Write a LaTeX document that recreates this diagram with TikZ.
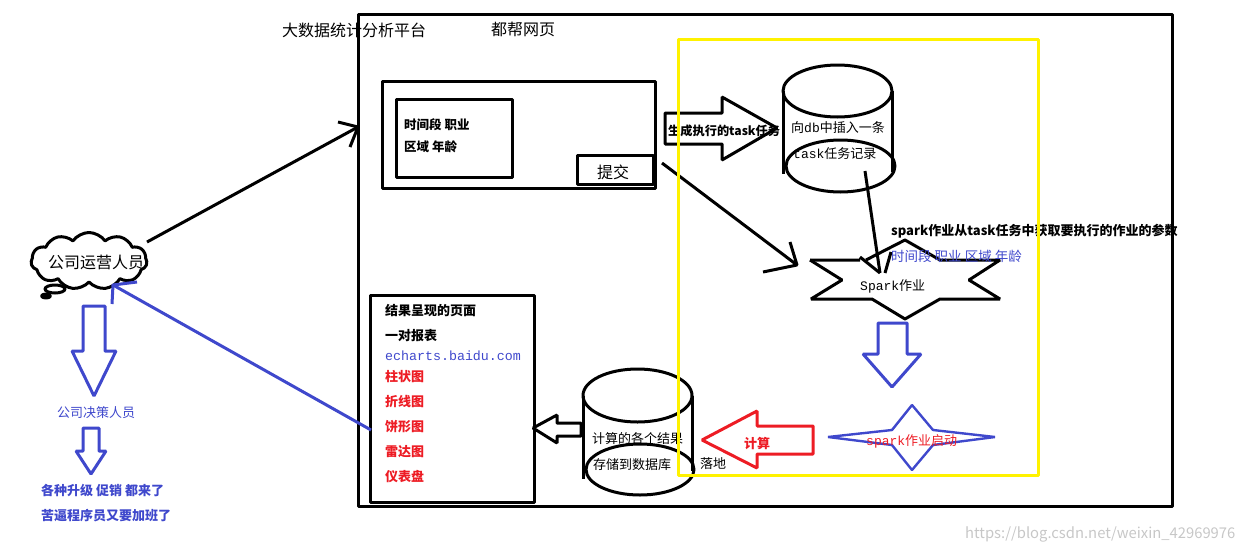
\documentclass[tikz,border=0pt]{standalone}
\usepackage{fontspec}
\setmainfont{Noto Sans CJK SC}
\newfontfamily\mono{Liberation Mono}
\usetikzlibrary{shapes.geometric,shapes.symbols}
\definecolor{penblue}{RGB}{63,72,204}
\definecolor{penred}{RGB}{237,28,36}
\definecolor{penyellow}{RGB}{255,242,0}
\begin{document}
\begin{tikzpicture}[x=1pt,y=-1pt,line join=bevel,
    pen/.style={draw=black,line width=3pt,inner sep=0,outer sep=0},
    bluepen/.style={draw=penblue,line width=3pt},
    redpen/.style={draw=penred,line width=3pt},
    txt/.style={inner sep=0,anchor=west,font=\fontsize{13}{13}\selectfont},
    big/.style={txt,font=\fontsize{16}{16}\selectfont},
    bt/.style={txt,font=\fontsize{13}{13}\selectfont\bfseries}]
\useasboundingbox (0,0) rectangle (1245,552);
\node[pen,minimum width=814pt,minimum height=492pt] (page) at (765,260) {};
\node[pen,minimum width=273pt,minimum height=107pt] (form) at (518.5,134.5) {};
\node[pen,minimum width=116pt,minimum height=78pt] (fields) at (454,138) {};
\node[pen,minimum width=76pt,minimum height=29pt] (submit) at (615,169.5) {};
\node[pen,minimum width=164pt,minimum height=207pt] (result) at (452,398.5) {};
\node[big] (title) at (282,30) {大数据统计分析平台};
\node[big] (site) at (491,29) {都帮网页};
\node[bt,font=\fontsize{12.5}{13}\selectfont\bfseries] (fieldsa) at (404,125) {时间段 职业};
\node[bt,font=\fontsize{12.5}{13}\selectfont\bfseries] (fieldsb) at (404,147) {区域 年龄};
\node[big,anchor=center] (submittxt) at (613,172) {提交};
% left side
\node[pen,cloud,cloud puffs=11,cloud puff arc=110,aspect=2.1,minimum width=116pt,minimum height=57pt] (cloud) at (89,261) {};
\node[pen,ellipse,minimum width=20pt,minimum height=8pt] (puff) at (55,289) {};
\node[pen,fill,ellipse,minimum width=9pt,minimum height=4pt] (puffb) at (46,296) {};
\node[big] (staff) at (48,262) {公司运营人员};
\draw[bluepen] (83,306) -- (105,306) -- (105,351) -- (116,351) -- (94,396) -- (72,351) -- (83,351) -- cycle;
\node[txt,text=penblue] (boss) at (57,413) {公司决策人员};
\draw[bluepen] (83,428) -- (99,428) -- (99,451) -- (106,451) -- (91,474) -- (76,451) -- (83,451) -- cycle;
\node[bt,text=penblue] (boss2) at (41,491) {各种升级 促销 都来了};
\node[bt,text=penblue] (boss3) at (41,516) {苦逼程序员又要加班了};
\coordinate (cloudout) at (147,242);
\coordinate (pagein) at (358,127);
\draw[pen] (cloudout) -- (pagein);
\draw[pen] (338,122) -- (pagein) -- (350,147);
\coordinate (resultout) at (371,430);
\coordinate (cloudin) at (113,285);
\draw[bluepen] (resultout) -- (cloudin);
\draw[bluepen] (137,282) -- (cloudin) -- (112,304);
% task and db
\draw[pen] (665,113) -- (722,113) -- (722,97) -- (777,128) -- (722,160) -- (722,144) -- (665,144) -- cycle;
\node[bt,font=\fontsize{12.2}{13}\selectfont\bfseries] (gen) at (668,131) {生成执行的task任务};
\node[pen,ellipse,minimum width=109pt,minimum height=52pt] (dbtop) at (837.5,91) {};
\node[pen,ellipse,minimum width=109pt,minimum height=52pt] (dbbot) at (840.5,166) {};
\draw[pen] (dbtop.west) -- ++(0,83);
\draw[pen] (dbtop.east) -- ++(0,81);
\node[txt] (insert) at (791,128) {向{\mono db}中插入一条};
\node[txt] (record) at (793,154) {{\mono task}任务记录};
\coordinate (formout) at (662,163);
\coordinate (sparkin) at (797,265);
\draw[pen] (formout) -- (sparkin);
\draw[pen] (790,242) -- (sparkin) -- (763,272);
\draw[pen] (810,260) -- (860,260) (860,257) -- (880,273) (885,273) -- (891,252);
\draw[pen] (866,260) -- (905,240) -- (940,260) -- (1000,260) -- (969,280) -- (1000,299) -- (940,299) -- (905,319) -- (872,299) -- (811,299) -- (842,280) -- (810,260);
\coordinate (dbout) at (865,171);
\coordinate (sparktop) at (880,273);
\draw[pen] (dbout) -- (sparktop);
\node[bt] (params) at (891,231) {spark作业从task任务中获取要执行的作业的参数};
\node[txt,text=penblue,font=\fontsize{13.5}{14}\selectfont] (paramsb) at (891,256) {时间段 职业 区域 年龄};
\node[txt] (spark) at (860,286) {{\mono Spark}作业};
% spark start and results
\draw[bluepen] (878,323) -- (907,323) -- (907,354) -- (921,354) -- (892,387) -- (863,354) -- (878,354) -- cycle;
\draw[bluepen,line width=2.4pt] (828,437) -- (892,430) -- (912,405) -- (933,430) -- (995,437) -- (933,445) -- (912,470) -- (892,445) -- cycle;
\node[txt,text=penred] (start) at (866,441) {{\mono spark}作业启动};
\draw[redpen] (813,426) -- (757,426) -- (757,411) -- (702,440) -- (757,468) -- (757,454) -- (813,454) -- cycle;
\node[bt,text=penred] (calc) at (744,444) {计算};
\node[pen,ellipse,minimum width=109pt,minimum height=53pt] (restop) at (637.5,395.5) {};
\node[pen,ellipse,minimum width=108pt,minimum height=51pt] (resbot) at (640,469.5) {};
\draw[pen] (restop.west) -- ++(0,83);
\draw[pen] (restop.east) -- ++(0,75);
\node[txt] (calcres) at (592,439) {计算的各个结果};
\node[txt] (store) at (593,465) {存储到数据库};
\node[txt] (landed) at (700,464) {落地};
\draw[pen] (581,423) -- (557,423) -- (557,415) -- (533,428) -- (557,443) -- (557,436) -- (581,436) -- cycle;
\node[bt] (resa) at (385,311) {结果呈现的页面};
\node[bt] (resb) at (385,336) {一对报表};
\node[txt,text=penblue] (resc) at (385,356) {\mono\fontsize{13.3}{14}\selectfont echarts.baidu.com};
\node[bt,text=penred] (resd) at (385,377) {柱状图};
\node[bt,text=penred] (rese) at (385,402) {折线图};
\node[bt,text=penred] (resf) at (385,427) {饼形图};
\node[bt,text=penred] (resg) at (385,452) {雷达图};
\node[bt,text=penred] (resh) at (385,477) {仪表盘};
\node[draw=penyellow,line width=3pt,inner sep=0,minimum width=360pt,minimum height=436pt] (frame) at (858,257) {};
\node[txt,text=black!22,font=\fontsize{14.8}{16}\selectfont] (mark) at (965,534) {https://blog.csdn.net/weixin\_42969976};
\end{tikzpicture}
\end{document}
